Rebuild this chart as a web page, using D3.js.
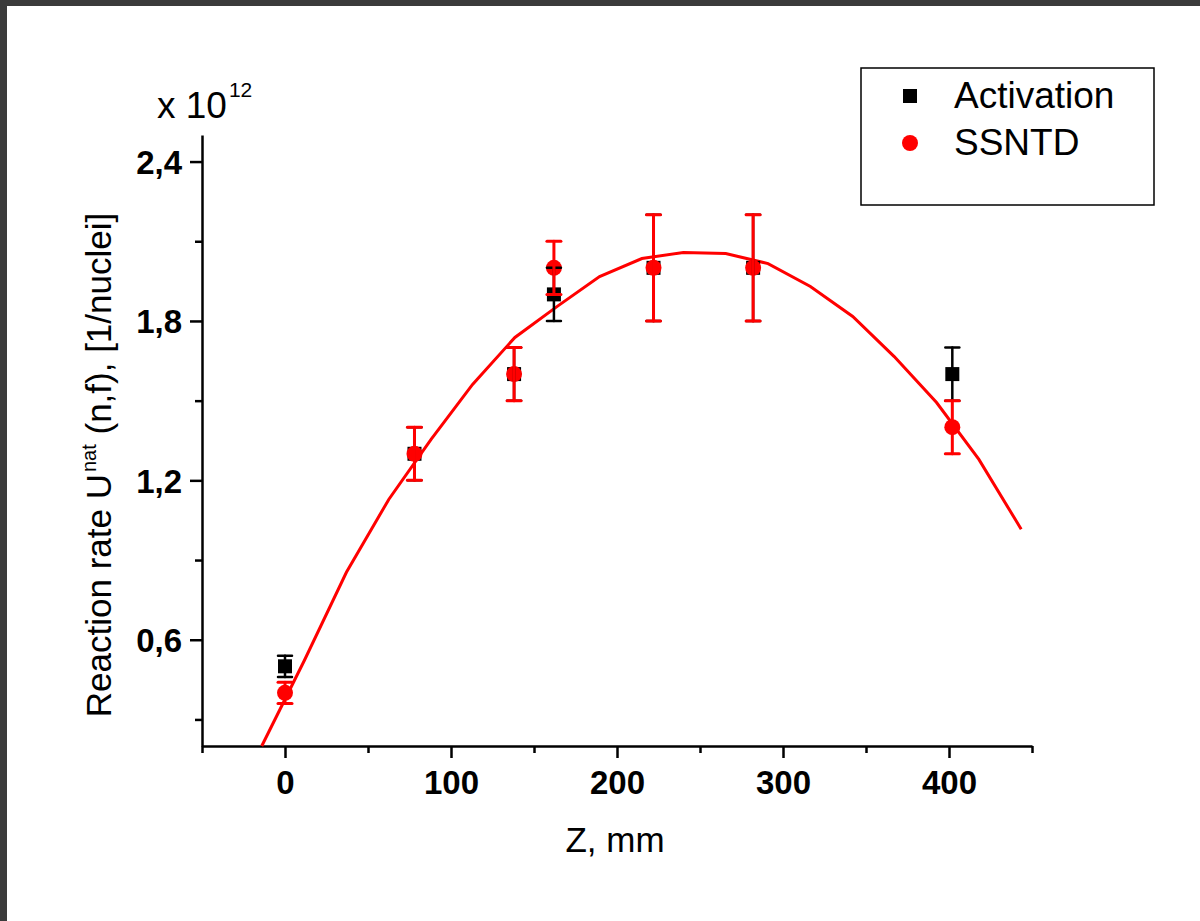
<!DOCTYPE html>
<html>
<head>
<meta charset="utf-8">
<script src="https://cdn.jsdelivr.net/npm/d3@7/dist/d3.min.js"></script>
<style>
  html, body { margin: 0; padding: 0; background: #3b3b3b; }
  svg { display: block; }
  text { font-family: "Liberation Sans", Arial, sans-serif; fill: #000; }
</style>
</head>
<body>
<script>
// Axial position, mm
const zActivation = [0, 78, 138, 162, 222, 282, 402];
const rateActivation = [0.50, 1.30, 1.60, 1.90, 2.00, 2.00, 1.60];   // x 10^12
const errActivation = [0.04, 0.10, 0.10, 0.10, 0.20, 0.20, 0.10];

const zSSNTD = [0, 78, 138, 162, 222, 282, 402];
const rateSSNTD = [0.40, 1.30, 1.60, 2.00, 2.00, 2.00, 1.40];
const errSSNTD = [0.04, 0.10, 0.10, 0.10, 0.20, 0.20, 0.10];

// Calculated distribution
const zCurve = [-14, 11.5, 37, 62.5, 88, 113, 138.5, 164, 189.5, 215, 240, 265.5, 291, 316.5, 342, 367, 392.5, 418, 443.5];
const rateCurve = [0.20, 0.52, 0.854, 1.128, 1.354, 1.561, 1.738, 1.855, 1.967, 2.035, 2.058, 2.054, 2.016, 1.930, 1.817, 1.666, 1.493, 1.279, 1.016];

const xMajorTicks = [0, 100, 200, 300, 400];
const xMinorTicks = [-50, 50, 150, 250, 350, 450];
const yMajorTicks = [0.6, 1.2, 1.8, 2.4];
const yMinorTicks = [0.3, 0.9, 1.5, 2.1];
const seriesNames = ["Activation", "SSNTD"];

const W = 1200, H = 921;
const svg = d3.select("body").append("svg").attr("width", W).attr("height", H);

// page frame
svg.append("rect").attr("x", 7).attr("y", 6).attr("width", W - 7).attr("height", H - 6).attr("fill", "#fff");

const x = d3.scaleLinear().domain([-50, 450]).range([202, 1032]);
const y = d3.scaleLinear().domain([0.2, 2.5]).range([746, 135]);

const fmt = d => d3.format(".1f")(d).replace(".", ",");

// x axis
const gx = svg.append("g").attr("transform", `translate(0,${y(0.2)})`);
gx.call(d3.axisBottom(x).tickValues(xMajorTicks).tickSize(12).tickSizeOuter(0).tickPadding(13).tickFormat(d3.format("d")));
gx.append("g").call(d3.axisBottom(x).tickValues(xMinorTicks).tickSize(7).tickSizeOuter(0).tickFormat(""))
  .select(".domain").remove();
gx.selectAll("text").attr("font-size", 33).attr("font-weight", "bold").attr("font-family", "Liberation Sans, Arial, sans-serif").attr("fill", "#000");

// y axis
const gy = svg.append("g").attr("transform", `translate(${x(-50)},0)`);
gy.call(d3.axisLeft(y).tickValues(yMajorTicks).tickSize(12).tickSizeOuter(0).tickPadding(8).tickFormat(fmt));
gy.append("g").call(d3.axisLeft(y).tickValues(yMinorTicks).tickSize(7).tickSizeOuter(0).tickFormat(""))
  .select(".domain").remove();
gy.selectAll("text").attr("font-size", 33).attr("font-weight", "bold").attr("font-family", "Liberation Sans, Arial, sans-serif").attr("fill", "#000").attr("dy", "0.36em");

svg.selectAll(".domain, .tick line").attr("stroke", "#000").attr("stroke-width", 2.5);

// calculated curve
const curveData = zCurve.map((z, i) => [z, rateCurve[i]]);
svg.append("path").datum(curveData)
  .attr("fill", "none").attr("stroke", "#ff0000").attr("stroke-width", 3)
  .attr("d", d3.line().x(d => x(d[0])).y(d => y(d[1])));

const act = zActivation.map((z, i) => ({ z, v: rateActivation[i], e: errActivation[i] }));
const ssn = zSSNTD.map((z, i) => ({ z, v: rateSSNTD[i], e: errSSNTD[i] }));

// markers
svg.append("g").selectAll("rect").data(act).join("rect")
  .attr("x", d => x(d.z) - 7).attr("y", d => y(d.v) - 7).attr("width", 14).attr("height", 14).attr("fill", "#000");
svg.append("g").selectAll("circle").data(ssn).join("circle")
  .attr("cx", d => x(d.z)).attr("cy", d => y(d.v)).attr("r", 8).attr("fill", "#ff0000");

function errorBars(data, color, width) {
  const g = svg.append("g").attr("stroke", color).attr("stroke-width", width).attr("stroke-linecap", "round");
  g.selectAll("line.v").data(data).join("line").attr("class", "v")
    .attr("x1", d => x(d.z)).attr("x2", d => x(d.z)).attr("y1", d => y(d.v - d.e)).attr("y2", d => y(d.v + d.e));
  g.selectAll("line.t").data(data).join("line").attr("class", "t")
    .attr("x1", d => x(d.z) - 7).attr("x2", d => x(d.z) + 7).attr("y1", d => y(d.v + d.e)).attr("y2", d => y(d.v + d.e));
  g.selectAll("line.b").data(data).join("line").attr("class", "b")
    .attr("x1", d => x(d.z) - 7).attr("x2", d => x(d.z) + 7).attr("y1", d => y(d.v - d.e)).attr("y2", d => y(d.v - d.e));
}
errorBars(act, "#000", 2.5);
errorBars(ssn, "#ff0000", 3);

// axis titles
svg.append("text").attr("x", 615).attr("y", 852).attr("text-anchor", "middle").attr("font-size", 35).text("Z, mm");

const yt = svg.append("text").attr("transform", `translate(111,465) rotate(-90)`).attr("text-anchor", "middle").attr("font-size", 35);
yt.append("tspan").text("Reaction rate U");
yt.append("tspan").attr("font-size", 20).attr("dy", -15).attr("dx", 2).text("nat");
yt.append("tspan").attr("dy", 15).text(" (n,f), [1/nuclei]");

// scale multiplier
const mult = svg.append("text").attr("x", 157).attr("y", 118).attr("font-size", 37);
mult.append("tspan").text("x 10");
mult.append("tspan").attr("font-size", 21).attr("dy", -21).attr("dx", 2).text("12");

// legend
const lg = svg.append("g");
lg.append("rect").attr("x", 861).attr("y", 68).attr("width", 293).attr("height", 137)
  .attr("fill", "#fff").attr("stroke", "#000").attr("stroke-width", 1.5);
lg.append("rect").attr("x", 903).attr("y", 89).attr("width", 14).attr("height", 14).attr("fill", "#000");
lg.append("circle").attr("cx", 910).attr("cy", 143).attr("r", 8).attr("fill", "#ff0000");
lg.selectAll("text").data(seriesNames).join("text")
  .attr("x", 954).attr("y", (d, i) => 108 + i * 47).attr("font-size", 37).text(d => d);
</script>
</body>
</html>
